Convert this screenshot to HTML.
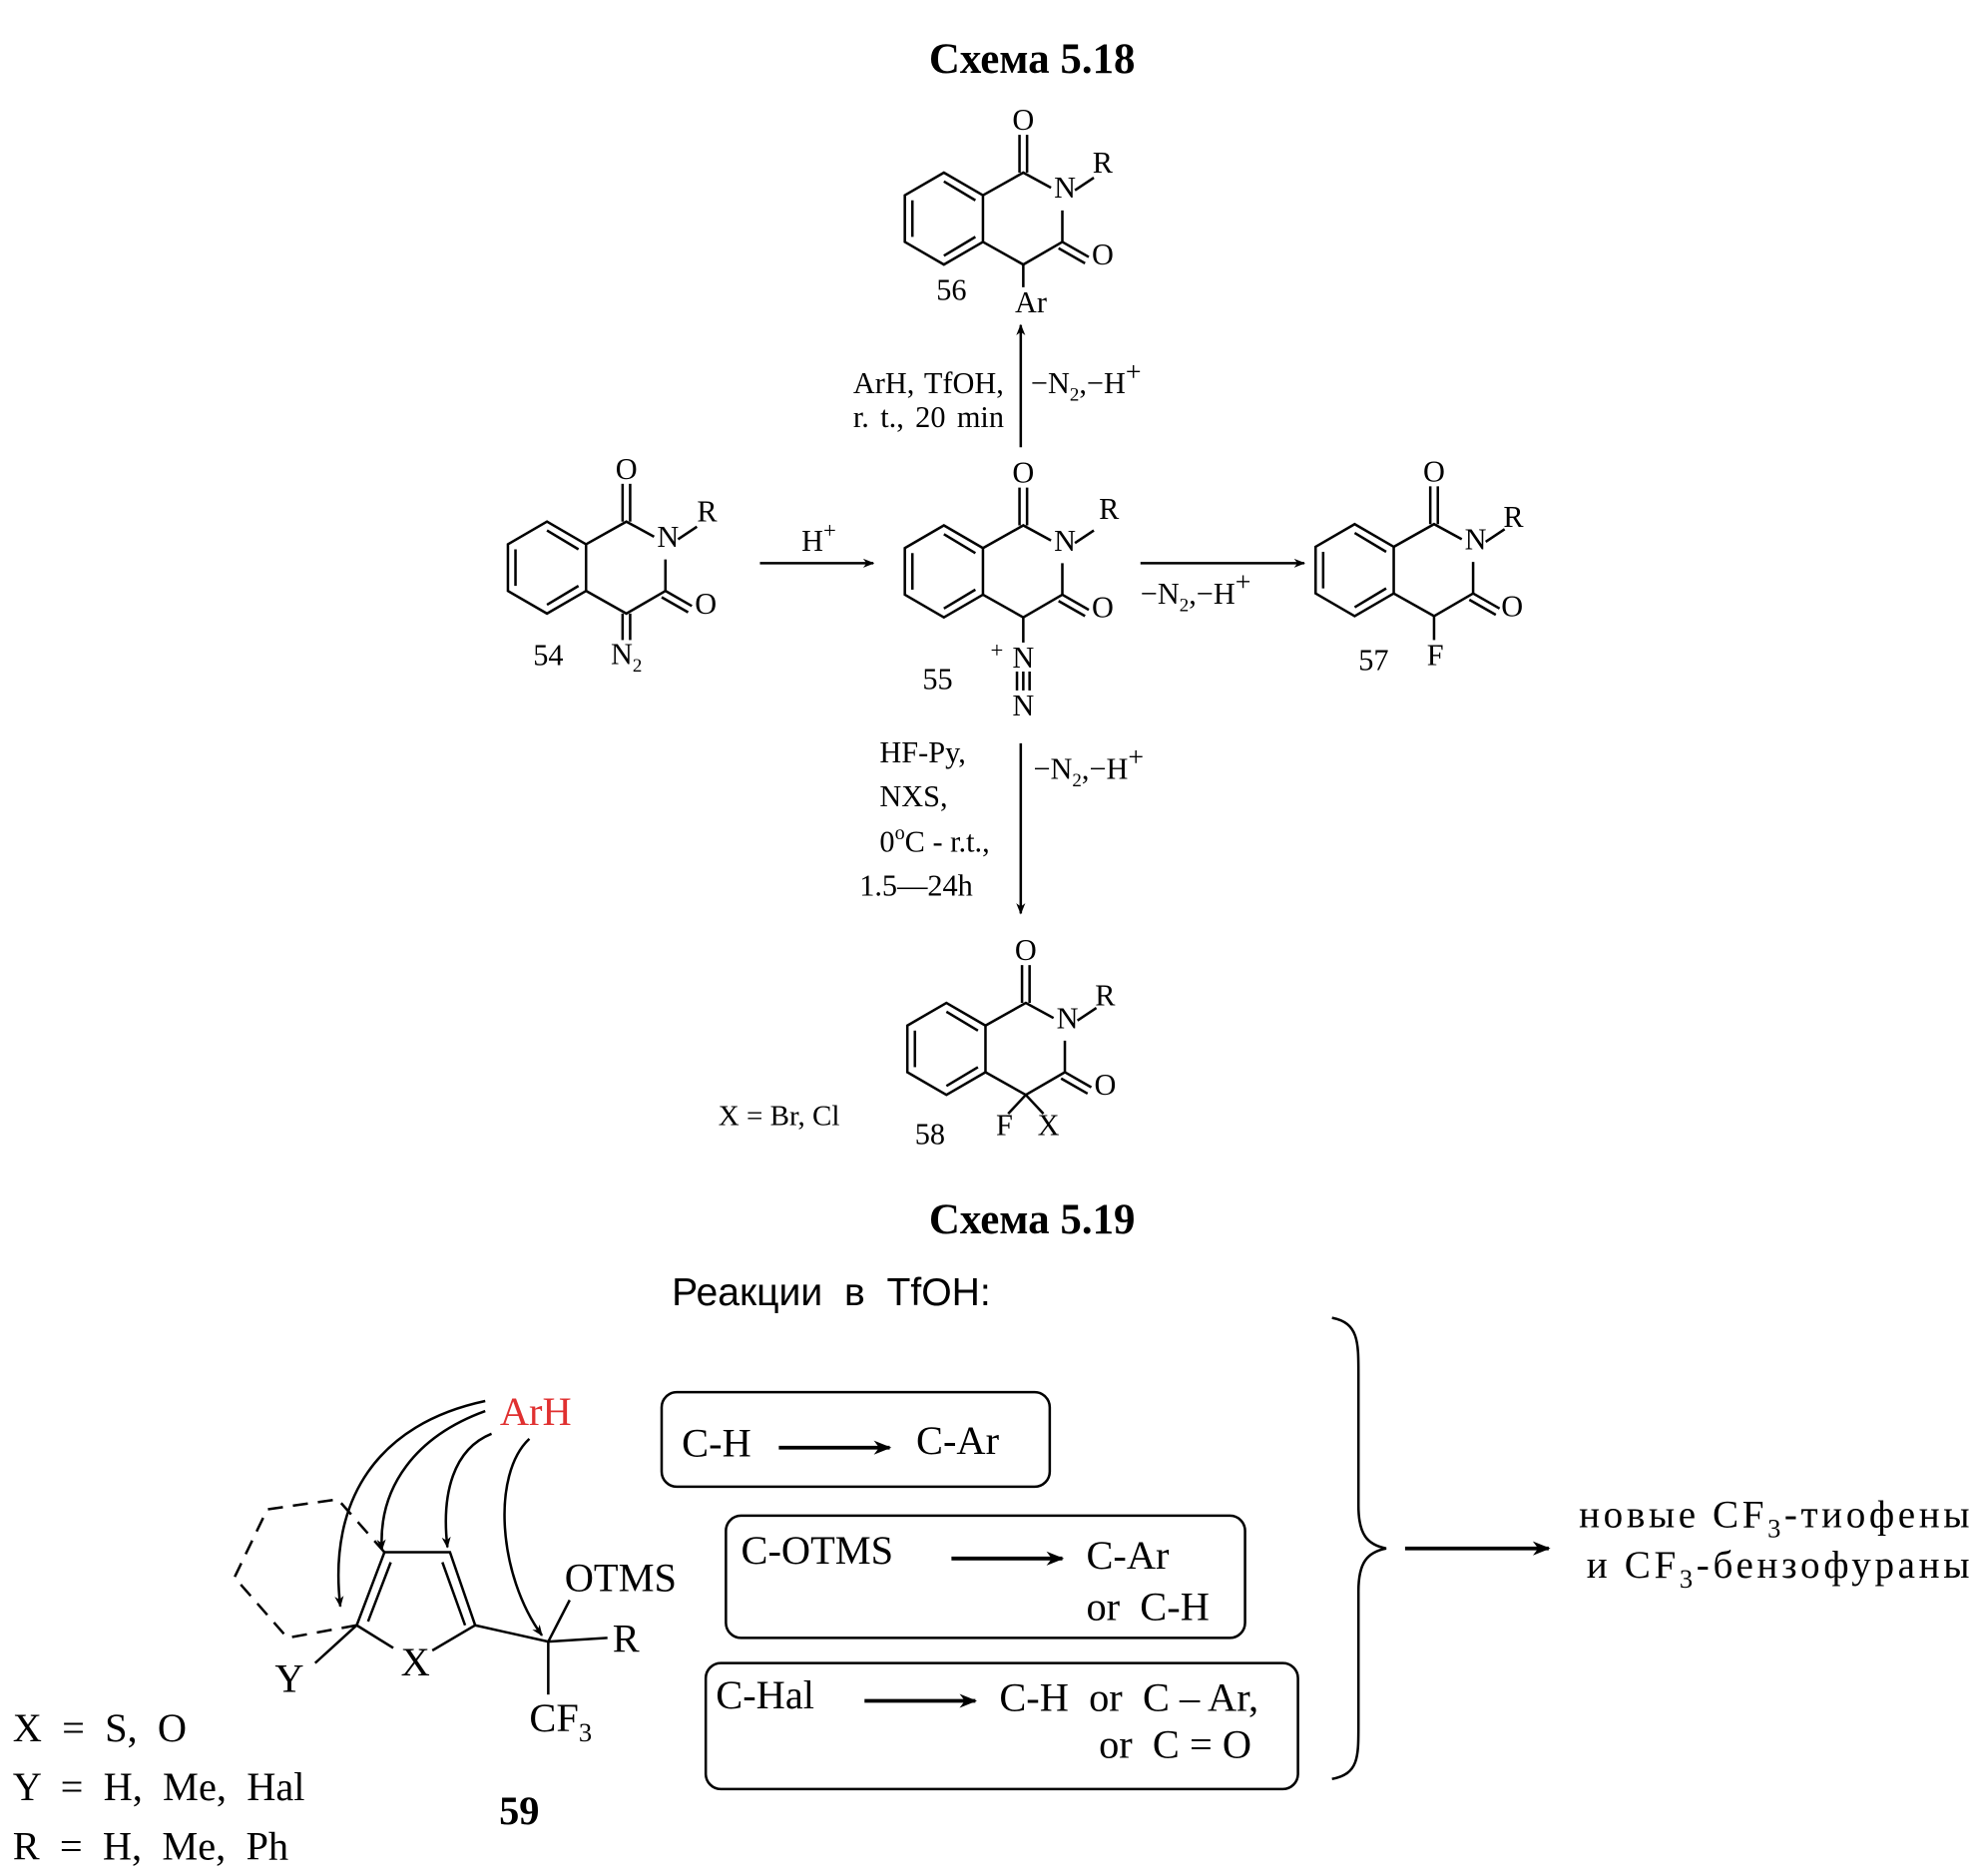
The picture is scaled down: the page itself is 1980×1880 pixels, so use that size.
<!DOCTYPE html>
<html><head><meta charset="utf-8"><style>
html,body{margin:0;padding:0;background:#fff}
svg{display:block}
text{font-family:"Liberation Serif",serif;fill:#000;white-space:pre}
</style></head><body>
<svg width="1980" height="1880" viewBox="0 0 1568 1489" xmlns="http://www.w3.org/2000/svg">
<defs>
<marker id="ah" viewBox="0 0 10 10" refX="9" refY="5" markerWidth="9" markerHeight="9" orient="auto-start-reverse" markerUnits="userSpaceOnUse"><path d="M0,1 L10,5 L0,9 L3,5z" fill="#000"/></marker>
<marker id="ah2" viewBox="0 0 10 10" refX="9" refY="5" markerWidth="14" markerHeight="14" orient="auto" markerUnits="userSpaceOnUse"><path d="M0,1 L10,5 L0,9 L3,5z" fill="#000"/></marker>
<g id="core" fill="none" stroke="#000" stroke-width="2">
<polygon points="-62,0 -31,-18 0,0 0,37 -31,55 -62,37"/>
<line x1="-56" y1="4" x2="-56" y2="33"/>
<line x1="-31" y1="-11" x2="-6" y2="4"/>
<line x1="-31" y1="48" x2="-6" y2="33"/>
<polyline points="0,0 32,-18 54,-6"/>
<polyline points="63,12 63,37 32,55 0,37"/>
<line x1="29" y1="-18" x2="29" y2="-48"/><line x1="35" y1="-18" x2="35" y2="-48"/>
<line x1="63" y1="37" x2="84" y2="49"/><line x1="60" y1="42" x2="81" y2="54"/>
<line x1="73" y1="-4" x2="88" y2="-14"/>
</g>
</defs>
<text x="819" y="58" text-anchor="middle" font-size="34" font-weight="bold">Схема 5.18</text>

<use href="#core" x="780" y="155"/>
<g font-size="24" text-anchor="middle">
<text x="812" y="103">O</text><text x="845" y="157">N</text><text x="875" y="137">R</text><text x="875" y="210">O</text>
<text x="755" y="238">56</text><text x="818" y="248">Ar</text></g>
<line x1="812" y1="210" x2="812" y2="228" stroke="#000" stroke-width="2"/>

<line x1="810" y1="355" x2="810" y2="258" stroke="#000" stroke-width="2" marker-end="url(#ah)"/>
<text x="677" y="312" font-size="24" word-spacing="2">ArH, TfOH,</text>
<text x="677" y="339" font-size="24" word-spacing="3">r. t., 20 min</text>
<text x="818" y="312" font-size="24">−N<tspan font-size="15" dy="6">2</tspan><tspan dy="-6">,−H</tspan><tspan font-size="22" dy="-10">+</tspan></text>

<use href="#core" x="465" y="432"/>
<g font-size="24" text-anchor="middle">
<text x="497" y="380">O</text><text x="530" y="434">N</text><text x="561" y="414">R</text><text x="560" y="487">O</text>
<text x="435" y="528">54</text><text x="497" y="527">N<tspan font-size="15" dy="6">2</tspan></text></g>
<line x1="494" y1="487" x2="494" y2="508" stroke="#000" stroke-width="2"/><line x1="500" y1="487" x2="500" y2="508" stroke="#000" stroke-width="2"/>

<line x1="603" y1="447" x2="693" y2="447" stroke="#000" stroke-width="2" marker-end="url(#ah)"/>
<text x="636" y="437" font-size="24">H<tspan font-size="18" dy="-10">+</tspan></text>

<use href="#core" x="780" y="435"/>
<g font-size="24" text-anchor="middle">
<text x="812" y="383">O</text><text x="845" y="437">N</text><text x="880" y="412">R</text><text x="875" y="490">O</text>
<text x="744" y="547">55</text><text x="812" y="530">N</text><text x="812" y="568">N</text></g>
<text x="786" y="522" font-size="18">+</text>
<line x1="812" y1="490" x2="812" y2="510" stroke="#000" stroke-width="2"/>
<g stroke="#000" stroke-width="2"><line x1="807" y1="533" x2="807" y2="548"/><line x1="812" y1="533" x2="812" y2="548"/><line x1="817" y1="533" x2="817" y2="548"/></g>

<line x1="905" y1="447" x2="1035" y2="447" stroke="#000" stroke-width="2" marker-end="url(#ah)"/>
<text x="905" y="479" font-size="24">−N<tspan font-size="15" dy="6">2</tspan><tspan dy="-6">,−H</tspan><tspan font-size="22" dy="-10">+</tspan></text>

<use href="#core" x="1106" y="434"/>
<g font-size="24" text-anchor="middle">
<text x="1138" y="382">O</text><text x="1171" y="436">N</text><text x="1201" y="418">R</text><text x="1200" y="489">O</text>
<text x="1090" y="532">57</text><text x="1139" y="528">F</text></g>
<line x1="1138" y1="489" x2="1138" y2="508" stroke="#000" stroke-width="2"/>

<line x1="810" y1="590" x2="810" y2="725" stroke="#000" stroke-width="2" marker-end="url(#ah)"/>
<g font-size="24"><text x="698" y="605">HF-Py,</text><text x="698" y="640">NXS,</text><text x="698" y="676">0<tspan font-size="16" dy="-10">o</tspan><tspan dy="10">C - r.t.,</tspan></text><text x="682" y="711">1.5—24h</text></g>
<text x="820" y="618" font-size="24">−N<tspan font-size="15" dy="6">2</tspan><tspan dy="-6">,−H</tspan><tspan font-size="22" dy="-10">+</tspan></text>

<use href="#core" x="782" y="814"/>
<g font-size="24" text-anchor="middle">
<text x="814" y="762">O</text><text x="847" y="816">N</text><text x="877" y="798">R</text><text x="877" y="869">O</text>
<text x="738" y="908">58</text><text x="797" y="901">F</text><text x="832" y="901">X</text></g>
<g stroke="#000" stroke-width="2"><line x1="814" y1="869" x2="800" y2="884"/><line x1="814" y1="869" x2="828" y2="884"/></g>
<text x="570" y="893" font-size="23">X = Br, Cl</text>

<text x="819" y="979" text-anchor="middle" font-size="34" font-weight="bold">Схема 5.19</text>
<text x="533" y="1036" font-size="31" style="font-family:'Liberation Sans',sans-serif">Реакции  в  TfOH:</text>

<g fill="none" stroke="#000" stroke-width="2">
<rect x="525" y="1105" width="308" height="75" rx="12"/>
<rect x="576" y="1203" width="412" height="97" rx="12"/>
<rect x="560" y="1320" width="470" height="100" rx="12"/>
<path d="M1057,1046 C1078,1050 1078,1065 1078,1090 L1078,1195 C1078,1218 1085,1226 1100,1229 C1085,1232 1078,1240 1078,1263 L1078,1370 C1078,1395 1078,1408 1057,1412"/>
</g>
<g font-size="32">
<text x="541" y="1156">C-H</text><text x="727" y="1154">C-Ar</text>
<text x="588" y="1241">C-OTMS</text><text x="862" y="1245">C-Ar</text><text x="862" y="1286">or  C-H</text>
<text x="568" y="1356">C-Hal</text><text x="793" y="1358">C-H  or  C – Ar,</text><text x="872" y="1395">or  C = O</text>
</g>
<g stroke="#000" stroke-width="3">
<line x1="618" y1="1149" x2="706" y2="1149" marker-end="url(#ah2)"/>
<line x1="755" y1="1237" x2="843" y2="1237" marker-end="url(#ah2)"/>
<line x1="686" y1="1350" x2="774" y2="1350" marker-end="url(#ah2)"/>
<line x1="1115" y1="1229" x2="1229" y2="1229" marker-end="url(#ah2)"/>
</g>
<g font-size="31">
<text x="1253" y="1212" textLength="310">новые CF<tspan font-size="21" dy="8">3</tspan><tspan dy="-8">-тиофены</tspan></text>
<text x="1259" y="1252" textLength="304">и CF<tspan font-size="21" dy="8">3</tspan><tspan dy="-8">-бензофураны</tspan></text>
</g>

<g fill="none" stroke="#000" stroke-width="2">
<polyline points="283,1290 305,1232 357,1232 377,1290 343,1310"/>
<line x1="283" y1="1290" x2="312" y2="1308"/>
<line x1="292" y1="1287" x2="310" y2="1240"/>
<line x1="351" y1="1240" x2="369" y2="1290"/>
<line x1="377" y1="1290" x2="435" y2="1303"/>
<line x1="435" y1="1303" x2="452" y2="1270"/>
<line x1="435" y1="1303" x2="482" y2="1300"/>
<line x1="435" y1="1303" x2="435" y2="1345"/>
<line x1="283" y1="1290" x2="250" y2="1320"/>
<polyline stroke-dasharray="12,8" points="305,1232 268,1190 212,1198 186,1252 228,1300 283,1290"/>
</g>
<text x="425" y="1131" text-anchor="middle" font-size="32" style="fill:#e03030">ArH</text>
<g fill="none" stroke="#000" stroke-width="2">
<path d="M385,1112 C300,1130 260,1190 270,1275" marker-end="url(#ah)"/>
<path d="M385,1120 C330,1140 300,1180 303,1230" marker-end="url(#ah)"/>
<path d="M390,1138 C360,1150 350,1185 355,1228" marker-end="url(#ah)"/>
<path d="M420,1142 C390,1170 395,1250 430,1298" marker-end="url(#ah)"/>
</g>
<g font-size="32">
<text x="448" y="1263">OTMS</text><text x="486" y="1311">R</text>
<text x="318" y="1330">X</text><text x="218" y="1343">Y</text>
<text x="420" y="1374">CF<tspan font-size="21" dy="8">3</tspan></text>
<text x="396" y="1448" font-weight="bold">59</text>
<text x="10" y="1382">X  =  S,  O</text>
<text x="10" y="1429">Y  =  H,  Me,  Hal</text>
<text x="10" y="1476">R  =  H,  Me,  Ph</text>
</g>
</svg>
</body></html>
